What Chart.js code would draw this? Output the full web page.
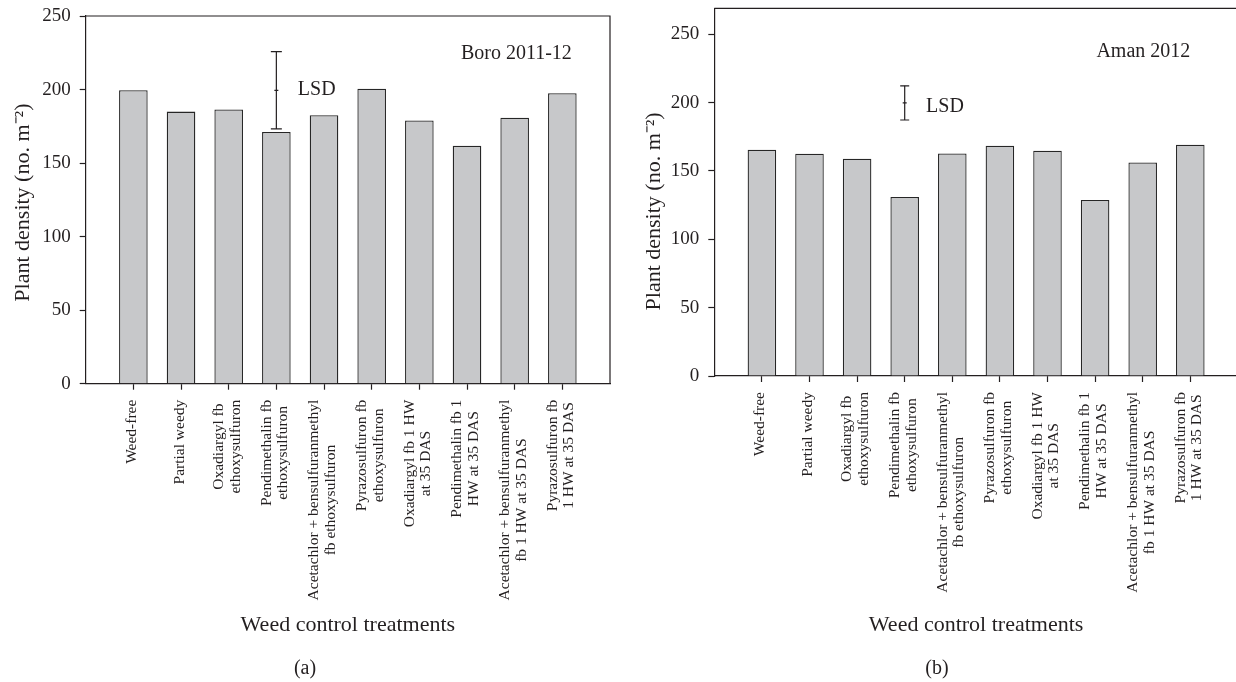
<!DOCTYPE html>
<html>
<head>
<meta charset="utf-8">
<script src="https://cdn.jsdelivr.net/npm/chart.js@4/dist/chart.umd.min.js"></script>
<style>
html, body { margin: 0; padding: 0; background: #fff; overflow: hidden; width: 1236px; height: 682px; }
#wrap { position: relative; width: 1236px; height: 682px; overflow: hidden; }
canvas { position: absolute; top: 0; }
#cA { left: 0; width: 618px; height: 682px; }
#cB { left: 618px; width: 640px; height: 682px; }
.panel { position: absolute; top: 667px; font: 20px 'Liberation Serif', serif; color: #231f20; transform: translate(-50%, -50%); }
</style>
</head>
<body>
<div id="wrap">
  <canvas id="cA" width="618" height="682"></canvas>
  <canvas id="cB" width="640" height="682"></canvas>
  <div class="panel" style="left:305px">(a)</div>
  <div class="panel" style="left:937px">(b)</div>
</div>
<script>
// ---------------- data ----------------
const categories = [
  'Weed-free',
  'Partial weedy',
  ['Oxadiargyl fb', 'ethoxysulfuron'],
  ['Pendimethalin fb', 'ethoxysulfuron'],
  ['Acetachlor + bensulfuranmethyl', 'fb ethoxysulfuron'],
  ['Pyrazosulfuron fb', 'ethoxysulfuron'],
  ['Oxadiargyl fb 1 HW', 'at 35 DAS'],
  ['Pendimethalin fb 1', 'HW at 35 DAS'],
  ['Acetachlor + bensulfuranmethyl', 'fb 1 HW at 35 DAS'],
  ['Pyrazosulfuron fb', '1 HW at 35 DAS']
];
const boroValues = [199.5, 185.0, 186.4, 171.2, 182.5, 200.6, 178.9, 161.7, 180.9, 197.5];
const amanValues = [165.5, 162.6, 158.9, 131.0, 162.8, 168.5, 164.8, 128.8, 156.2, 169.2];
const yTicks = [0, 50, 100, 150, 200, 250];
const lsdCategory = 4;            // LSD bar drawn at the 4th treatment position
const boroLsdCentre = 199.5;
const boroLsdHalf = 26.3;
const amanLsdCentre = 199.8;
const amanLsdHalf = 12.5;
const boroLabel = 'Boro 2011-12';
const amanLabel = 'Aman 2012';
const yTitle = 'Plant density (no. m\u207B\u00B2)';
const xTitle = 'Weed control treatments';

// ---------------- styling ----------------
const INK = '#231f20';
const FONT = "'Liberation Serif', 'Times New Roman', serif";
const BAR_FILL = '#c7c8ca';
const BAR_EDGE = '#262626';

// rewrite x tick label items so that multi-line labels are centred on the tick
const centerLabels = {
  id: 'centerLabels',
  beforeDraw(chart) {
    const sc = chart.scales.x;
    if (!sc || typeof sc.getLabelItems !== 'function') return;
    const items = sc.getLabelItems();
    if (!items || !items.length || items._centered) return;
    const ctx = chart.ctx;
    const out = [];
    items.forEach((it, i) => {
      const tick = sc.ticks[i];
      if (!tick) return;
      const lines = Array.isArray(it.label) ? it.label : [it.label];
      const px = sc.getPixelForValue(tick.value);
      ctx.save();
      ctx.font = it.font.string;
      const widths = lines.map(l => ctx.measureText(l).width);
      ctx.restore();
      const W = Math.max.apply(null, widths);
      const lh = it.font.lineHeight;
      const y0 = it.options.translation[1];
      lines.forEach((line, k) => {
        out.push({
          label: line,
          font: it.font,
          textOffset: 0,
          options: Object.assign({}, it.options, {
            textAlign: 'center',
            textBaseline: 'middle',
            translation: [px - 1.5 + (k - (lines.length - 1) / 2) * lh, y0 + W / 2]
          })
        });
      });
    });
    out._centered = true;
    sc._labelItems = out;
  }
};

const boxPlugin = {
  id: 'box',
  afterDraw(chart) {
    const a = chart.chartArea, c = chart.ctx;
    c.save();
    c.strokeStyle = INK;
    c.lineWidth = 1.2;
    c.beginPath();
    c.moveTo(a.left, a.top);
    c.lineTo(a.right, a.top);
    c.lineTo(a.right, a.bottom);
    c.stroke();
    c.restore();
  }
};

const notesPlugin = {
  id: 'notes',
  afterDatasetsDraw(chart, args, opts) {
    const c = chart.ctx, xs = chart.scales.x, ys = chart.scales.y;
    (opts.items || []).forEach(n => {
      c.save();
      c.font = '20px ' + FONT;
      c.fillStyle = INK;
      c.textAlign = n.align;
      c.textBaseline = 'middle';
      c.fillText(n.text, xs.getPixelForValue(n.x), ys.getPixelForValue(n.y));
      c.restore();
    });
  }
};

function makeChart(id, values, lsdCentre, lsdHalf, cfg) {
  const barData = values.map((v, i) => ({ x: i + 1, y: v }));
  const lsdData = [
    { x: lsdCategory, y: lsdCentre - lsdHalf },
    { x: lsdCategory, y: lsdCentre },
    { x: lsdCategory, y: lsdCentre + lsdHalf }
  ];
  return new Chart(document.getElementById(id), {
    type: 'bar',
    data: {
      datasets: [
        {
          type: 'line',
          data: lsdData,
          borderColor: INK,
          borderWidth: 1.2,
          pointStyle: 'line',
          pointRadius: [cfg.cap, 2, cfg.cap],
          pointBorderColor: INK,
          pointBorderWidth: 1.2,
          pointBackgroundColor: INK,
          fill: false,
          order: 0
        },
        {
          data: barData,
          backgroundColor: BAR_FILL,
          borderColor: BAR_EDGE,
          borderWidth: 1.3,
          borderSkipped: 'start',
          barPercentage: 0.6,
          categoryPercentage: 1.0,
          order: 1
        }
      ]
    },
    options: {
      responsive: false,
      animation: false,
      devicePixelRatio: 1,
      layout: { padding: cfg.padding },
      plugins: {
        legend: { display: false },
        tooltip: { enabled: false },
        notes: { items: cfg.notes }
      },
      scales: {
        x: {
          type: 'linear',
          position: 'bottom',
          offset: false,
          min: 0,
          max: 11,
          afterBuildTicks: s => { s.ticks = categories.map((c, i) => ({ value: i + 1 })); },
          afterFit: s => { s.height = cfg.xHeight; s.paddingLeft = 0; s.paddingRight = 0; },
          grid: { display: true, offset: false, drawOnChartArea: false, drawTicks: true, tickLength: 6, tickColor: INK, tickWidth: 1.2 },
          border: { display: true, color: INK, width: 1.2 },
          ticks: {
            autoSkip: false,
            minRotation: 90,
            maxRotation: 90,
            padding: 10,
            color: INK,
            font: { family: FONT, size: 15.5, lineHeight: '16.5px' },
            callback: (v, i) => categories[i]
          },
          title: {
            display: true,
            text: xTitle,
            color: INK,
            font: { family: FONT, size: 22, lineHeight: 1.2 },
            padding: { top: 0, bottom: 43.8 }
          }
        },
        y: {
          type: 'linear',
          min: 0,
          max: cfg.yMax,
          afterBuildTicks: s => { s.ticks = yTicks.map(v => ({ value: v })); },
          afterFit: s => { s.width = cfg.yWidth; s.paddingTop = 0; s.paddingBottom = 0; },
          grid: { display: true, drawOnChartArea: false, drawTicks: true, tickLength: 6, tickColor: INK, tickWidth: 1.2 },
          border: { display: true, color: INK, width: 1.2 },
          ticks: {
            padding: 9,
            color: INK,
            font: { family: FONT, size: 19 },
            callback: v => String(v)
          },
          title: {
            display: true,
            text: yTitle + cfg.titleTail,
            color: INK,
            font: { family: FONT, size: 22, lineHeight: 1.2 },
            padding: { top: cfg.yTitlePad, bottom: 0 }
          }
        }
      }
    },
    plugins: [centerLabels, boxPlugin, notesPlugin]
  });
}

makeChart('cA', boroValues, boroLsdCentre, boroLsdHalf, {
  padding: { left: 0, top: 16, right: 8, bottom: 0 },
  yMax: 250,
  yWidth: 85.7,
  xHeight: 298.3,
  yTitlePad: 9.8,
  titleTail: ' ',
  cap: 5.5,
  notes: [
    { text: boroLabel, x: 10.2, y: 224.6, align: 'right' },
    { text: 'LSD', x: 4.45, y: 199.7, align: 'left' }
  ]
});

makeChart('cB', amanValues, amanLsdCentre, amanLsdHalf, {
  padding: { left: 0, top: 8.3, right: 20.1, bottom: 0 },
  yMax: 269,
  yWidth: 96.3,
  xHeight: 306,
  yTitlePad: 23.2,
  titleTail: '       ',
  cap: 4.5,
  notes: [
    { text: amanLabel, x: 10.0, y: 237.3, align: 'right' },
    { text: 'LSD', x: 4.45, y: 196.8, align: 'left' }
  ]
});
</script>
</body>
</html>
